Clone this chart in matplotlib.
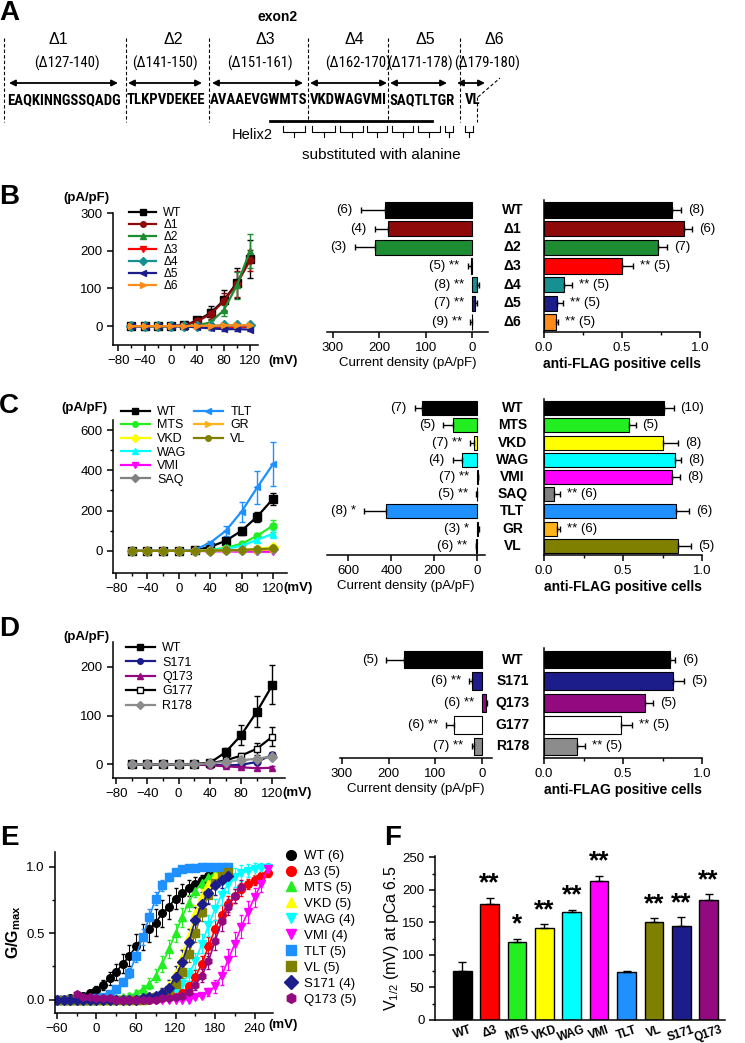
import numpy as np
import matplotlib
matplotlib.use('Agg')
import matplotlib.pyplot as plt
from matplotlib.lines import Line2D
from matplotlib import font_manager

plt.rcParams['font.family'] = ['Liberation Sans', 'DejaVu Sans']
plt.rcParams['mathtext.fontset'] = 'custom'
plt.rcParams['mathtext.rm'] = 'Liberation Sans'
plt.rcParams['mathtext.bf'] = 'Liberation Sans:bold'
plt.rcParams['axes.linewidth'] = 1.1
for a in ('xtick', 'ytick'):
    plt.rcParams[a + '.direction'] = 'out'
    plt.rcParams[a + '.major.size'] = 4
    plt.rcParams[a + '.minor.size'] = 2.5
    plt.rcParams[a + '.major.width'] = 1.1
    plt.rcParams[a + '.minor.width'] = 1.0
    plt.rcParams[a + '.labelsize'] = 9.5

W, H = 745, 1043
nan = np.nan

# ---- A: exon2 deletion map
seg_names = ['Δ1', 'Δ2', 'Δ3', 'Δ4', 'Δ5', 'Δ6']
seg_ranges = ['(Δ127-140)', '(Δ141-150)', '(Δ151-161)', '(Δ162-170)', '(Δ171-178)', '(Δ179-180)']
seg_seqs = ['EAQKINNGSSQADG', 'TLKPVDEKEE', 'AVAAEVGWMTS', 'VKDWAGVMI', 'SAQTLTGR', 'VL']

# ---- I-V curves (B, C, D)
volt = [-60, -40, -20, 0, 20, 40, 60, 80, 100, 120]

b_names = ['WT', 'Δ1', 'Δ2', 'Δ3', 'Δ4', 'Δ5', 'Δ6']
b_iv = [[0, 0, 0, 0, 2, 15, 35, 68, 115, 178],
        [0, 0, 0, 0, 2, 13, 32, 66, 112, 175],
        [0, 0, 0, 0, 0, 2, 10, 42, 108, 200],
        [0, 0, 0, 0, 0, -1, -2, -2, -2, -2],
        [0, 0, 0, 0, 0, 0, 1, 2, 2, 3],
        [0, 0, 0, 0, -1, -3, -6, -8, -8, -9],
        [0, 0, 0, 0, 0, 1, 1, 2, 2, 3]]
b_iv_err = [[0, 0, 0, 0, 1, 8, 18, 28, 40, 50],
            [0, 0, 0, 0, 1, 6, 14, 22, 35, 28],
            [0, 0, 0, 0, 0, 2, 5, 15, 35, 45],
            [0, 0, 0, 0, 0, 1, 1, 1, 1, 1],
            [0, 0, 0, 0, 0, 0, 1, 1, 1, 1],
            [0, 0, 0, 0, 1, 2, 3, 4, 4, 4],
            [0, 0, 0, 0, 0, 1, 1, 1, 2, 2]]
b_cd = [187, 181, 209, 2, -11, -7, 1]
b_cd_err = [52, 28, 43, 8, 3, 3, 3]
b_cd_n = [6, 4, 3, 5, 8, 7, 9]
b_cd_sig = ['', '', '', '**', '**', '**', '**']
b_flag = [0.82, 0.90, 0.73, 0.50, 0.13, 0.085, 0.08]
b_flag_err = [0.06, 0.05, 0.06, 0.07, 0.05, 0.035, 0.01]
b_flag_n = [8, 6, 7, 5, 5, 5, 5]
b_flag_sig = ['', '', '', '**', '**', '**', '**']

c_names = ['WT', 'MTS', 'VKD', 'WAG', 'VMI', 'SAQ', 'TLT', 'GR', 'VL']
c_iv = [[0, 0, 0, 0, 2, 20, 50, 100, 170, 258],
        [0, 0, 0, 0, 0, 5, 15, 35, 75, 125],
        [0, 0, 0, 0, 0, 0, 3, 5, 10, 18],
        [0, 0, 0, 0, 0, 3, 10, 25, 55, 85],
        [0, 0, 0, 0, 0, -2, -3, -4, -4, -5],
        [0, 0, 0, 0, 0, 1, 2, 3, 5, 8],
        [0, 0, 0, 0, 5, 40, 100, 195, 315, 430],
        [0, 0, 0, 0, 0, 1, 2, 4, 5, 7],
        [0, 0, 0, 0, 0, 1, 3, 5, 8, 12]]
c_iv_err = [[0, 0, 0, 0, 2, 5, 10, 20, 25, 30],
            [0, 0, 0, 0, 0, 2, 5, 10, 15, 30],
            [0, 0, 0, 0, 0, 1, 2, 3, 5, 8],
            [0, 0, 0, 0, 0, 2, 5, 10, 15, 20],
            [0, 0, 0, 0, 0, 1, 1, 2, 2, 3],
            [0, 0, 0, 0, 0, 1, 1, 2, 2, 3],
            [0, 0, 0, 0, 3, 10, 25, 50, 80, 110],
            [0, 0, 0, 0, 0, 1, 1, 2, 2, 3],
            [0, 0, 0, 0, 0, 1, 2, 3, 4, 5]]
c_cd = [255, 112, 14, 70, -3, 1, 423, -5, 3]
c_cd_err = [35, 45, 18, 42, 3, 2, 103, 3, 3]
c_cd_n = [7, 5, 7, 4, 7, 5, 8, 3, 6]
c_cd_sig = ['', '', '**', '', '**', '**', '*', '*', '**']
c_flag = [0.76, 0.54, 0.75, 0.83, 0.81, 0.065, 0.835, 0.08, 0.845]
c_flag_err = [0.06, 0.04, 0.10, 0.04, 0.05, 0.035, 0.085, 0.02, 0.085]
c_flag_n = [10, 5, 8, 8, 8, 6, 6, 6, 5]
c_flag_sig = ['', '', '', '', '', '**', '', '**', '']

d_names = ['WT', 'S171', 'Q173', 'G177', 'R178']
d_iv = [[0, 0, 0, 0, 1, 3, 25, 60, 108, 163],
        [0, 0, 0, 0, 0, -1, -2, -1, 5, 20],
        [0, 0, 0, 0, 0, -2, -4, -6, -8, -7],
        [0, 0, 0, 0, 0, 2, 8, 18, 32, 57],
        [0, 0, 0, 0, 0, 2, 5, 8, 12, 16]]
d_iv_err = [[0, 0, 0, 0, 1, 2, 8, 20, 32, 40],
            [0, 0, 0, 0, 0, 1, 1, 2, 3, 5],
            [0, 0, 0, 0, 0, 1, 2, 2, 3, 3],
            [0, 0, 0, 0, 0, 1, 3, 5, 12, 20],
            [0, 0, 0, 0, 0, 1, 2, 2, 3, 4]]
d_cd = [167, 21, -8, 60, 17]
d_cd_err = [38, 7, 3, 17, 5]
d_cd_n = [5, 6, 6, 6, 7]
d_cd_sig = ['', '**', '**', '**', '**']
d_flag = [0.80, 0.815, 0.64, 0.49, 0.21]
d_flag_err = [0.03, 0.07, 0.05, 0.07, 0.05]
d_flag_n = [6, 5, 5, 5, 5]
d_flag_sig = ['', '', '', '**', '**']

# ---- E: G/Gmax vs voltage (-60 .. 260 mV, 10 mV steps)
v_e = list(range(-60, 270, 10))
e_names = ['WT', 'Δ3', 'MTS', 'VKD', 'WAG', 'VMI', 'TLT', 'VL', 'S171', 'Q173']
e_n = [6, 5, 5, 5, 4, 4, 5, 5, 4, 5]
z6 = [nan] * 6
e_g = [
    [0, 0, .01, .02, .03, .05, .07, .11, .16, .21, .27, .33, .40, .47, .53, .58, .65, .70, .76, .80, .84, .87, .90, .93, .95, .97, .98] + z6,
    [0] * 15 + [.01, .01, .02, .03, .05, .10, .17, .27, .40, .53, .64, .72, .78, .83, .87, .90, .93, .95],
    [0] * 9 + [.01, .02, .03, .05, .08, .12, .18, .27, .38, .50, .62, .73, .82, .88, .92, .95, .97, .98] + z6,
    [0] * 13 + [.01, .02, .03, .06, .11, .20, .32, .48, .65, .78, .87, .93, .96, .98] + z6,
    [0] * 15 + [.01, .02, .04, .07, .12, .19, .29, .42, .56, .68, .79, .87, .92, .95, .97, .98, .99, .99],
    [0] * 21 + [.02, .03, .06, .10, .18, .30, .42, .55, .66, .77, .87, .98],
    [0] * 6 + [.01, .02, .04, .08, .13, .20, .33, .47, .62, .76, .86, .92, .96, .98, .99, .99, 1, 1, 1, 1, 1] + z6,
    [0] * 14 + [.01, .02, .03, .07, .12, .21, .34, .50, .66, .79, .88, .93, .96] + z6,
    [0] * 13 + [.01, .02, .03, .05, .09, .17, .28, .43, .60, .72, .80, .86, .90, .93] + z6,
    [nan] * 3 + [.04, .02, .02, .01, .01, .01, 0, 0, 0, 0, 0, 0, 0, .01, .01,
                 .02, .03, .06, .11, .18, .29, .44, .59, .70, .78, .85] + [nan] * 4,
]
e_err = [
    [0, 0, 0, .01, .01, .02, .03, .04, .05, .06, .07, .08, .09, .10, .10, .10, .10, .09, .08, .07, .06, .05, .04, .03, .02, .02, .01] + z6,
    [0] * 15 + [.01, .01, .01, .02, .03, .04, .05, .06, .07, .07, .07, .06, .05, .05, .04, .04, .03, .03],
    [0] * 9 + [.01, .01, .02, .02, .03, .04, .05, .06, .07, .07, .07, .06, .05, .04, .03, .02, .02, .01] + z6,
    [0] * 13 + [.01, .01, .02, .03, .04, .05, .06, .06, .06, .05, .04, .03, .02, .01] + z6,
    [0] * 15 + [.01, .01, .02, .03, .04, .05, .06, .07, .08, .08, .08, .07, .07, .06, .05, .05, .04, .04],
    [0] * 21 + [.01, .02, .03, .05, .07, .08, .09, .09, .08, .07, .06, .04],
    [0] * 6 + [0, .01, .01, .02, .03, .04, .05, .06, .06, .05, .04, .03, .02, .01, .01, 0, 0, 0, 0, 0, 0] + z6,
    [0] * 14 + [.01, .01, .02, .03, .04, .05, .06, .07, .07, .06, .05, .04, .03] + z6,
    [0] * 13 + [.01, .01, .02, .04, .06, .08, .09, .10, .10, .09, .08, .07, .06, .05] + z6,
    [nan] * 3 + [.01] * 15 + [.01, .02, .03, .04, .05, .06, .07, .07, .06, .05, .05] + [nan] * 4,
]

# ---- F: V1/2 at pCa 6.5
f_names = ['WT', 'Δ3', 'MTS', 'VKD', 'WAG', 'VMI', 'TLT', 'VL', 'S171', 'Q173']
f_vhalf = [76, 178, 120, 141, 166, 213, 73, 150, 144, 184]
f_err = [13, 10, 5, 6, 3, 9, 2, 6, 14, 9]
f_sig = ['', '**', '*', '**', '**', '**', '', '**', '**', '**']

# colours / markers
col = {'WT': 'black', 'Δ1': '#8E0A0A', 'Δ2': '#1E8C32', 'Δ3': '#FF0000', 'Δ4': '#169090',
       'Δ5': '#1C1C8A', 'Δ6': '#FF8C1A', 'MTS': '#22EE22', 'VKD': '#FFFF00', 'WAG': '#00FFFF',
       'VMI': '#FF00FF', 'SAQ': '#808080', 'TLT': '#1E90FF', 'GR': '#FFB31A', 'VL': '#808000',
       'S171': '#1C1C8A', 'Q173': '#930A80', 'G177': 'white', 'R178': '#8C8C8C'}
mk = {'WT': 's', 'Δ1': 'o', 'Δ2': '^', 'Δ3': 'v', 'Δ4': 'D', 'Δ5': '<', 'Δ6': '>',
      'MTS': 'o', 'VKD': 'D', 'WAG': '^', 'VMI': 'v', 'SAQ': 'D', 'TLT': '<', 'GR': '>', 'VL': 'o',
      'S171': 'o', 'Q173': '^', 'G177': 's', 'R178': 'D'}
e_mk = {'WT': 'o', 'Δ3': 'o', 'MTS': '^', 'VKD': '^', 'WAG': 'v', 'VMI': 'v', 'TLT': 's',
        'VL': 's', 'S171': 'D', 'Q173': 'h'}


def narrow_font():
    # a condensed face if one is installed, else plain Liberation Sans
    names = {f.name for f in font_manager.fontManager.ttflist}
    for nm in ('Liberation Sans Narrow', 'DejaVu Sans Condensed', 'Roboto Condensed'):
        if nm in names:
            return nm, 'normal'
    cond = [f for f in font_manager.fontManager.ttflist
            if f.name == 'DejaVu Sans' and f.stretch in ('condensed', 'semi-condensed')]
    if cond:
        return 'DejaVu Sans', 'condensed'
    return 'Liberation Sans', 'normal'


def px_axes(fig, x0, y0, x1, y1):
    return fig.add_axes([x0 / W, 1 - y1 / H, (x1 - x0) / W, (y1 - y0) / H], facecolor='none')


def iv_plot(ax, names, vals, errs, ylim, yticks, yminor):
    for n, v, e in zip(names, vals, errs):
        lc = 'black' if n == 'G177' else col[n]
        ms = 6 if n == 'WT' else 5
        ax.errorbar(volt, v, yerr=e, color=lc, marker=mk[n], mfc=col[n], mec=lc, ms=ms,
                    lw=1.6, elinewidth=1, capsize=2.5, label=n)
    ax.set_ylim(*ylim)
    ax.set_xticks([-80, -40, 0, 40, 80, 120])
    ax.set_xticks([-60, -20, 20, 60, 100], minor=True)
    ax.set_yticks(yticks)
    ax.set_yticks(yminor, minor=True)
    for s in ('top', 'right'):
        ax.spines[s].set_visible(False)


def iv_legend(fig, ax, names, x, y, fs, spacing):
    hs = [Line2D([], [], color='black' if n == 'G177' else col[n], marker=mk[n], mfc=col[n],
                 mec='black' if n == 'G177' else col[n], ms=4, lw=1.6) for n in names]
    leg = ax.legend(hs, names, loc='upper left', bbox_to_anchor=(x / W, 1 - y / H),
                    bbox_transform=fig.transFigure, frameon=False, fontsize=fs, borderpad=0,
                    borderaxespad=0, labelspacing=spacing, handlelength=2.3, handletextpad=0.6)
    return leg


def cd_plot(ax, vals, errs, ns, sigs, colors, xlim, xticks):
    y = np.arange(len(vals))
    ax.barh(y, vals, height=0.82, color=colors, edgecolor='black', lw=0.8)
    for yi, v, e, n, s in zip(y, vals, errs, ns, sigs):
        xe = [[0], [e]] if v >= 0 else [[e], [0]]
        ax.errorbar(v, yi, xerr=xe, fmt='none', ecolor='black', elinewidth=1, capsize=2.5)
        tx = v + e if v >= 0 else 0
        lab = '(%d)' % n + (' ' + s if s else '')
        ax.annotate(lab, (tx, yi), xytext=(-6, 0), textcoords='offset points',
                    ha='right', va='center', fontsize=9.5)
    ax.set_xlim(*xlim)
    ax.set_ylim(len(vals) - 0.47, -0.53)
    ax.set_xticks(xticks)
    ax.set_yticks([])
    for s in ('top', 'right', 'left'):
        ax.spines[s].set_visible(False)
    ax.set_xlabel('Current density (pA/pF)', fontsize=9.5, labelpad=2)


def flag_plot(ax, names, vals, errs, ns, sigs, colors):
    y = np.arange(len(vals))
    ax.barh(y, vals, height=0.82, color=colors, edgecolor='black', lw=0.8)
    for yi, nm, v, e, n, s in zip(y, names, vals, errs, ns, sigs):
        ax.errorbar(v, yi, xerr=[[0], [e]], fmt='none', ecolor='black', elinewidth=1, capsize=2.5)
        lab = (s + ' ' if s else '') + '(%d)' % n
        ax.annotate(lab, (v + e, yi), xytext=(5, 0), textcoords='offset points',
                    ha='left', va='center', fontsize=9.5)
        ax.text(-0.2, yi, nm, ha='center', va='center', fontsize=10, fontweight='bold')
    ax.set_xlim(0, 1.0)
    ax.set_ylim(len(vals) - 0.47, -0.53)
    ax.set_xticks([0, 0.5, 1.0])
    ax.set_xticklabels(['0.0', '0.5', '1.0'])
    ax.set_xticks([0.25, 0.75], minor=True)
    ax.set_yticks([])
    for s in ('top', 'right'):
        ax.spines[s].set_visible(False)
    ax.set_xlabel('anti-FLAG positive cells', fontsize=10, fontweight='bold', labelpad=2)


def fit_width(texts, ref, target, fig):
    # scale a group of texts so that texts[ref] is `target` pixels wide
    fig.canvas.draw()
    r = fig.canvas.get_renderer()
    w = texts[ref].get_window_extent(r).width
    fs = texts[ref].get_fontsize() * target / w
    for t in texts:
        t.set_fontsize(fs)


def main():
    fig = plt.figure(figsize=(W / 100, H / 100), dpi=100)
    ov = fig.add_axes([0, 0, 1, 1])
    ov.set_xlim(0, W)
    ov.set_ylim(H, 0)
    ov.axis('off')
    nfam, nstretch = narrow_font()

    # panel letters
    for lab, x, y in [('A', 9, 13), ('B', 9, 197), ('C', 9, 406), ('D', 9, 629),
                      ('E', 9, 838), ('F', 393, 838)]:
        ov.text(x, y, lab, ha='center', va='center', fontsize=20, fontweight='bold')

    # ---- A
    ov.text(278, 17, 'exon2', ha='center', va='center', fontsize=10, fontweight='bold')
    name_x = [58, 173, 265, 354, 425, 494]
    range_x = [67, 165, 260, 358, 420, 487]
    arrow_x = [(9, 118), (128, 202), (212, 303), (310, 387), (390, 447), (457, 485)]
    seq_x = [7, 127, 210, 310, 390, 465]
    for i in range(6):
        ov.text(name_x[i], 40, seg_names[i], ha='center', va='center', fontsize=11.5)
        ov.annotate('', xy=(arrow_x[i][1], 83), xytext=(arrow_x[i][0], 83),
                    arrowprops=dict(arrowstyle='<|-|>', color='black', lw=1.3,
                                    mutation_scale=9, shrinkA=0, shrinkB=0))
    rng_txt = [ov.text(range_x[i], 63, seg_ranges[i], ha='center', va='center', fontsize=11,
                       family=nfam, fontstretch=nstretch) for i in range(6)]
    seq_txt = [ov.text(seq_x[i], 100, seg_seqs[i], ha='left', va='center', fontsize=12,
                       fontweight='bold', family=nfam, fontstretch=nstretch)
               for i in range(6)]
    fit_width(seq_txt, 0, 114, fig)
    fit_width(rng_txt, 0, 66, fig)
    for x in [4, 126, 209, 308, 388, 460]:
        ov.plot([x, x], [38, 122], ls=(0, (3, 2)), lw=0.8, color='k')
    ov.plot([477, 477], [97, 122], ls=(0, (3, 2)), lw=0.8, color='k')
    ov.plot([478, 500], [97, 78], ls=(0, (3, 2)), lw=0.8, color='k')
    ov.plot([270, 432], [121, 121], lw=2, color='k')
    ov.text(252, 135, 'Helix2', ha='center', va='center', fontsize=10.5)
    for x0, x1 in [(283, 305), (312, 335), (340, 363), (367, 387), (392, 413),
                   (418, 440), (445, 453), (465, 473)]:
        xm = (x0 + x1) / 2
        ov.plot([x0, x0, x1, x1], [126, 132, 132, 126], color='k', lw=0.8)
        ov.plot([xm, xm], [132, 137], color='k', lw=0.8)
    ov.text(381, 155, 'substituted with alanine', ha='center', va='center', fontsize=11)

    # ---- B
    ax = px_axes(fig, 113, 213, 258, 345)
    iv_plot(ax, b_names, b_iv, b_iv_err, (-50, 300), [0, 100, 200, 300], [])
    ax.set_xlim(-88, 132)
    iv_legend(fig, ax, b_names, 129, 207, 8.5, 0.02)
    ov.text(86, 198, '(pA/pF)', ha='center', va='center', fontsize=9.5, fontweight='bold')
    ov.text(283, 361, '(mV)', ha='center', va='center', fontsize=9.5, fontweight='bold')

    ax = px_axes(fig, 327, 200, 488, 332)
    cd_plot(ax, b_cd, b_cd_err, b_cd_n, b_cd_sig, [col[n] for n in b_names],
            (312, -34), [300, 200, 100, 0])
    ax = px_axes(fig, 544, 200, 700, 332)
    flag_plot(ax, b_names, b_flag, b_flag_err, b_flag_n, b_flag_sig, [col[n] for n in b_names])

    # ---- C
    ax = px_axes(fig, 113, 420, 287, 573)
    iv_plot(ax, c_names, c_iv, c_iv_err, (-110, 650), [0, 200, 400, 600], [100, 300, 500])
    ax.set_xlim(-84, 138)
    leg = iv_legend(fig, ax, c_names[:6], 121, 406, 9, 0.12)
    ax.add_artist(leg)
    iv_legend(fig, ax, c_names[6:], 194, 406, 9, 0.12)
    ov.text(84, 408, '(pA/pF)', ha='center', va='center', fontsize=9.5, fontweight='bold')
    ov.text(298, 588, '(mV)', ha='center', va='center', fontsize=9.5, fontweight='bold')

    ax = px_axes(fig, 327, 399, 485, 555)
    cd_plot(ax, c_cd, c_cd_err, c_cd_n, c_cd_sig, [col[n] for n in c_names],
            (700, -37), [600, 400, 200, 0])
    ax = px_axes(fig, 544, 399, 702, 555)
    flag_plot(ax, c_names, c_flag, c_flag_err, c_flag_n, c_flag_sig, [col[n] for n in c_names])

    # ---- D
    ax = px_axes(fig, 113, 642, 285, 778)
    iv_plot(ax, d_names, d_iv, d_iv_err, (-28, 251), [0, 100, 200], [])
    ax.set_xlim(-84, 136)
    iv_legend(fig, ax, d_names, 126, 642, 9, 0.2)
    ov.text(86, 637, '(pA/pF)', ha='center', va='center', fontsize=9.5, fontweight='bold')
    ov.text(297, 793, '(mV)', ha='center', va='center', fontsize=9.5, fontweight='bold')

    ax = px_axes(fig, 340, 648, 492, 758)
    cd_plot(ax, d_cd, d_cd_err, d_cd_n, d_cd_sig, [col[n] for n in d_names],
            (304, -21), [300, 200, 100, 0])
    ax = px_axes(fig, 544, 648, 702, 758)
    flag_plot(ax, d_names, d_flag, d_flag_err, d_flag_n, d_flag_sig, [col[n] for n in d_names])

    # ---- E
    ax = px_axes(fig, 55, 852, 273, 1013)
    ve = np.array(v_e)
    hs = []
    for n, g, e in zip(e_names, e_g, e_err):
        g = np.array(g, float)
        e = np.array(e, float)
        ok = ~np.isnan(g)
        ax.errorbar(ve[ok], g[ok], yerr=e[ok], color=col[n], marker=e_mk[n], ms=5.5,
                    lw=1.2, elinewidth=0.8, capsize=1.5)
        hs.append(Line2D([], [], ls='none', color=col[n], marker=e_mk[n], ms=7))
    ax.set_xlim(-63, 268)
    ax.set_ylim(-0.1, 1.11)
    ax.set_xticks([-60, 0, 60, 120, 180, 240])
    ax.set_xticks([-30, 30, 90, 150, 210], minor=True)
    ax.set_yticks([0, 0.5, 1.0])
    ax.set_yticklabels(['0.0', '0.5', '1.0'])
    ax.set_yticks([0.25, 0.75], minor=True)
    for s in ('top', 'right'):
        ax.spines[s].set_visible(False)
    ax.set_ylabel(r'$\mathbf{G/G_{max}}$', fontsize=11.5, labelpad=2)
    ax.legend(hs, ['%s (%d)' % (n, k) for n, k in zip(e_names, e_n)], loc='upper left',
              bbox_to_anchor=(284 / W, 1 - 850 / H), bbox_transform=fig.transFigure,
              frameon=False, fontsize=9.5, borderpad=0, borderaxespad=0, labelspacing=0.28,
              handlelength=1.0, handletextpad=0.5)
    ov.text(283, 1025, '(mV)', ha='center', va='center', fontsize=9.5, fontweight='bold')

    # ---- F
    ax = px_axes(fig, 435, 856, 725, 1020)
    x = np.arange(len(f_names))
    ax.bar(x, f_vhalf, width=0.68, color=[col[n] for n in f_names], edgecolor='black', lw=1)
    ax.errorbar(x, f_vhalf, yerr=[np.zeros(len(x)), f_err], fmt='none', ecolor='black',
                elinewidth=1, capsize=3)
    for xi, v, e, s in zip(x, f_vhalf, f_err, f_sig):
        if s:
            ax.text(xi, v + e + 22, s, ha='center', va='center', fontsize=19, fontweight='bold')
    ax.set_xlim(-1, 9.6)
    ax.set_ylim(0, 252)
    ax.set_yticks([0, 50, 100, 150, 200, 250])
    ax.set_yticks([25, 75, 125, 175, 225], minor=True)
    ax.set_xticks(x)
    ax.set_xticklabels(f_names, rotation=18, fontsize=8.5, fontweight='bold')
    ax.tick_params(axis='x', length=0, pad=3)
    for s in ('top', 'right'):
        ax.spines[s].set_visible(False)
    ax.set_ylabel(r'V$_{1/2}$ (mV) at pCa 6.5', fontsize=11.5, labelpad=1)

    fig.savefig('out.png', dpi=100)


if __name__ == '__main__':
    main()
